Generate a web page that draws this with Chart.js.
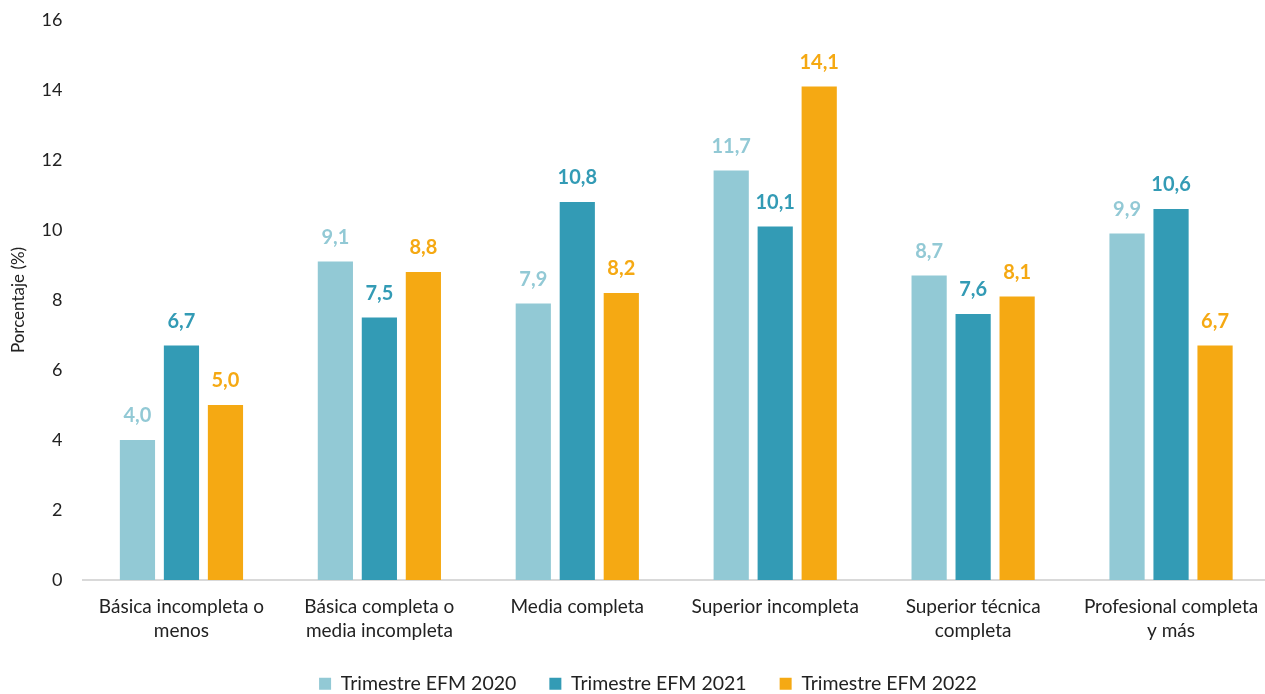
<!DOCTYPE html>
<html>
<head>
<meta charset="utf-8">
<script src="https://cdn.jsdelivr.net/npm/chart.js@4"></script>
<style>
  html, body { margin: 0; padding: 0; background: #fff; overflow: hidden; }
  #wrap { width: 1270px; height: 694px; }
</style>
</head>
<body>
<div id="wrap"><canvas id="bar-chart"></canvas></div>
<script>
// datos
const categories = [
  ['Básica incompleta o', 'menos'],
  ['Básica completa o', 'media incompleta'],
  'Media completa',
  'Superior incompleta',
  ['Superior técnica', 'completa'],
  ['Profesional completa', 'y más']
];
const seriesNames = ['Trimestre EFM 2020', 'Trimestre EFM 2021', 'Trimestre EFM 2022'];
const values2020 = [4.0, 9.1, 7.9, 11.7, 8.7, 9.9];
const values2021 = [6.7, 7.5, 10.8, 10.1, 7.6, 10.6];
const values2022 = [5.0, 8.8, 8.2, 14.1, 8.1, 6.7];
const yTicks = [0, 2, 4, 6, 8, 10, 12, 14, 16];

const colors = ['#92c9d5', '#339bb5', '#f5a913'];
const FONT = 'Lato, "Open Sans", sans-serif';

// etiquetas encima de las barras
const barLabels = {
  id: 'barLabels',
  afterDatasetsDraw(chart) {
    const ctx = chart.ctx;
    ctx.save();
    ctx.font = 'bold 20px ' + FONT;
    ctx.textAlign = 'center';
    ctx.textBaseline = 'alphabetic';
    chart.data.datasets.forEach(function(ds, i) {
      ctx.fillStyle = ds.backgroundColor;
      chart.getDatasetMeta(i).data.forEach(function(bar, j) {
        ctx.fillText(ds.data[j].toFixed(1).replace('.', ','), bar.x, bar.y - 18);
      });
    });
    ctx.restore();
  }
};

// leyenda: alto fijo y un poco corrida a la derecha
const legendTweak = {
  id: 'legendTweak',
  beforeInit(chart) {
    const fit = chart.legend.fit;
    chart.legend.fit = function() {
      fit.bind(chart.legend)();
      this.height = 53;
    };
    const draw = chart.legend.draw;
    chart.legend.draw = function() {
      chart.ctx.save();
      chart.ctx.translate(13, 0);
      draw.bind(chart.legend)();
      chart.ctx.restore();
    };
  }
};

const datasets = [values2020, values2021, values2022].map(function(vals, i) {
  return {
    label: seriesNames[i],
    data: vals,
    backgroundColor: colors[i],
    categoryPercentage: 0.667,
    barPercentage: 0.8
  };
});

new Chart(document.getElementById('bar-chart'), {
  type: 'bar',
  data: { labels: categories, datasets: datasets },
  plugins: [barLabels, legendTweak],
  options: {
    responsive: true,
    maintainAspectRatio: false,
    animation: false,
    layout: { padding: { top: 20, right: 0, left: 0, bottom: 0 } },
    plugins: {
      legend: {
        position: 'bottom',
        labels: {
          font: { family: FONT, size: 19.5 },
          color: '#222',
          boxWidth: 12,
          boxHeight: 12,
          padding: 33
        }
      },
      tooltip: { enabled: false }
    },
    scales: {
      x: {
        grid: { display: false, drawTicks: false },
        border: { color: '#d9d9d9', width: 2 },
        ticks: { font: { family: FONT, size: 19, lineHeight: 1.25 }, color: '#222', padding: 15, maxRotation: 0 },
        afterFit: function(scale) {
          scale.height = 61;
          scale.paddingLeft = 0;
          scale.paddingRight = 0;
        }
      },
      y: {
        min: 0,
        max: 16,
        afterBuildTicks: function(axis) { axis.ticks = yTicks.map(function(v) { return { value: v }; }); },
        grid: { display: false, drawTicks: false },
        border: { display: false },
        ticks: { font: { family: FONT, size: 18 }, color: '#222', padding: 20 },
        title: { display: true, text: 'Porcentaje (%)', font: { family: FONT, size: 17 }, color: '#222', padding: { top: 8, bottom: 12 } },
        afterFit: function(scale) {
          scale.width = 82.5;
          scale.paddingTop = 0;
          scale.paddingBottom = 0;
        }
      }
    }
  }
});
</script>
</body>
</html>
